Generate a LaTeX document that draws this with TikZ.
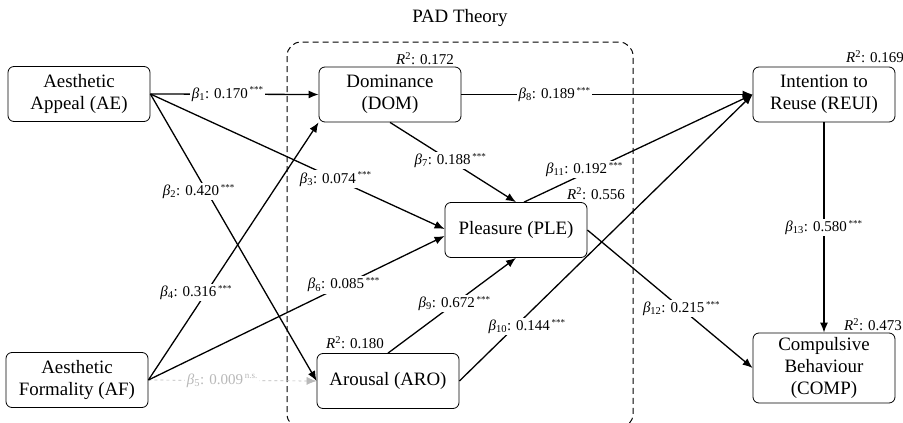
\documentclass[tikz,border=0pt]{standalone}
\usepackage{fontspec}
\setmainfont{Liberation Serif}
\usetikzlibrary{arrows.meta}
\newcommand{\pcoef}[3]{\textit{β}\textsubscript{#1}: #2\textsuperscript{\,\fontsize{9}{9}\selectfont #3}}
\newcommand{\rsqval}[1]{\textit{R}\textsuperscript{2}: #1}
\tikzset{
  construct/.style={draw, fill=white, rounded corners=6pt, line width=0.8pt,
    minimum width=142pt, minimum height=55pt, align=center,
    font=\fontsize{18.9}{22}\selectfont},
  effect/.style={draw, line width=1.3pt, -{Latex[length=10pt,width=8pt]}},
  coef/.style={fill=white, inner sep=1.5pt, font=\fontsize{15}{17}\selectfont},
  rsq/.style={inner sep=0pt, font=\fontsize{15}{17}\selectfont},
}
\begin{document}
\begin{tikzpicture}[x=1pt,y=-1pt]
\useasboundingbox (0,0) rectangle (903,423);
\draw[dash pattern=on 6pt off 4pt, rounded corners=14pt, line width=1pt] (287,42) rectangle (633,428);
\node[font=\fontsize{18.9}{22}\selectfont] (padtitle) at (460,18) {PAD Theory};

\node[construct] (AE) at (79,94) {Aesthetic\\Appeal (AE)};
\node[construct] (AF) at (77,380) {Aesthetic\\Formality (AF)};
\node[construct] (DOM) at (390,94.5) {Dominance\\(DOM)};
\node[construct] (PLE) at (516,230) {Pleasure (PLE)};
\node[construct] (ARO) at (388,381) {Arousal (ARO)};
\node[construct] (REUI) at (824,94.5) {Intention to\\Reuse (REUI)};
\node[construct, minimum height=70pt] (COMP) at (824,368) {Compulsive\\Behaviour\\(COMP)};

\node[rsq] (rDOM) at (425,59) {\rsqval{0.172}};
\node[rsq] (rPLE) at (596,194) {\rsqval{0.556}};
\node[rsq] (rARO) at (355,343) {\rsqval{0.180}};
\node[rsq] (rREUI) at (875,57) {\rsqval{0.169}};
\node[rsq] (rCOMP) at (873,325) {\rsqval{0.473}};

\draw[gray!55, line width=0.7pt, dash pattern=on 3pt off 3pt, -{Latex[length=10pt,width=8pt]}] (AF.east) -- node[coef, pos=0.44, text=gray!55] {\pcoef{5}{0.009}{n.s.}} (ARO.west);

\draw[effect] (AE.east) -- node[coef, pos=0.46] {\pcoef{1}{0.170}{***}} (DOM.west);
\draw[effect] (AE.east) -- node[coef, pos=0.34, xshift=-8pt] {\pcoef{2}{0.420}{***}} (ARO.west);
\draw[effect] (AE.east) -- node[coef, pos=0.63] {\pcoef{3}{0.074}{***}} ([yshift=1pt]PLE.west);
\draw[effect] (AF.east) -- node[coef, pos=0.34, xshift=-10pt] {\pcoef{4}{0.316}{***}} (DOM.south west);
\draw[effect] (AF.east) -- node[coef, pos=0.66] {\pcoef{6}{0.085}{***}} ([yshift=-6pt]PLE.west);
\draw[effect] (DOM.south) -- node[coef, pos=0.48] {\pcoef{7}{0.188}{***}} (PLE.north);
\draw[effect] (DOM.east) -- node[coef, pos=0.32] {\pcoef{8}{0.189}{***}} (REUI.west);
\draw[effect] (ARO.north) -- node[coef, pos=0.52] {\pcoef{9}{0.672}{***}} (PLE.south);
\draw[effect] (ARO.east) -- node[coef, pos=0.19, xshift=12pt] {\pcoef{10}{0.144}{***}} (REUI.west);
\draw[effect] ([xshift=8pt]PLE.north) -- node[coef, pos=0.3, xshift=-8pt] {\pcoef{11}{0.192}{***}} (REUI.west);
\draw[effect] (PLE.east) -- node[coef, pos=0.57] {\pcoef{12}{0.215}{***}} (COMP.west);
\draw[effect] (REUI.south) -- node[coef, pos=0.5] {\pcoef{13}{0.580}{***}} (COMP.north);
\end{tikzpicture}
\end{document}
